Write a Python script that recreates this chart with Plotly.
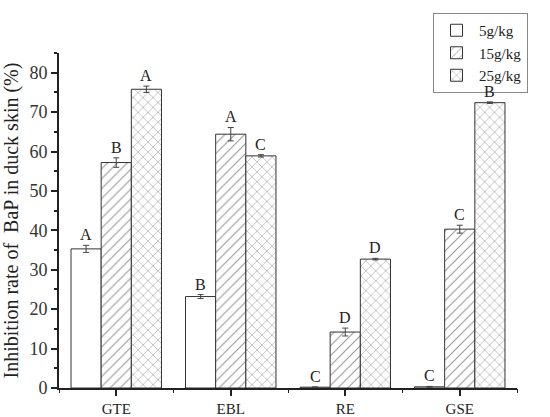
import plotly.graph_objects as go

# data
categories = ["GTE", "EBL", "RE", "GSE"]
doses = ["5g/kg", "15g/kg", "25g/kg"]
values = {
    "5g/kg": [35.3, 23.2, 0.2, 0.3],
    "15g/kg": [57.2, 64.4, 14.2, 40.3],
    "25g/kg": [75.8, 58.9, 32.7, 72.4],
}
errors = {
    "5g/kg": [0.9, 0.5, 0.1, 0.1],
    "15g/kg": [1.2, 1.7, 1.0, 1.0],
    "25g/kg": [0.8, 0.3, 0.2, 0.2],
}
letters = {
    "5g/kg": ["A", "B", "C", "C"],
    "15g/kg": ["B", "A", "D", "C"],
    "25g/kg": ["A", "C", "D", "B"],
}
y_ticks = [0, 10, 20, 30, 40, 50, 60, 70, 80]

# styles
FONT = "Liberation Serif, DejaVu Serif, serif"
LINE = "#333333"
patterns = {"5g/kg": "", "15g/kg": "/", "25g/kg": "x"}

W, H = 550, 417
M = dict(l=59, r=33, t=53, b=29)
BARGAP = 0.21

fig = go.Figure()
for d in doses:
    fig.add_trace(go.Bar(
        name=d,
        x=categories,
        y=values[d],
        error_y=dict(type="data", array=errors[d], color="#444444",
                     thickness=1, width=3),
        marker=dict(
            color="white",
            line=dict(color=LINE, width=1),
            pattern=dict(shape=patterns[d], fgcolor="#2a2a2a", bgcolor="white",
                         size=7, solidity=0.15),
        ),
    ))

# significance letters above each error bar
plot_w = W - M["l"] - M["r"]
bar_px = plot_w / len(categories) * (1 - BARGAP) / len(doses)
for k, d in enumerate(doses):
    shift = (k - 1) * bar_px
    for i, c in enumerate(categories):
        fig.add_annotation(
            x=c, y=values[d][i] + errors[d][i], text=letters[d][i],
            xshift=shift, yshift=0, yanchor="bottom", showarrow=False,
            font=dict(family=FONT, size=16, color="#222222"),
        )

fig.update_layout(
    width=W, height=H,
    margin=dict(M, autoexpand=False),
    paper_bgcolor="white", plot_bgcolor="white",
    barmode="group", bargap=BARGAP, bargroupgap=0,
    font=dict(family=FONT, color="#222222"),
    showlegend=True,
    legend=dict(
        xref="container", yref="container",
        x=433 / W, y=1 - 13 / H, xanchor="left", yanchor="top",
        bordercolor="#888888", borderwidth=1,
        font=dict(family=FONT, size=15, color="#222222"),
        tracegroupgap=0, itemwidth=35,
    ),
    xaxis=dict(
        type="category", range=[-0.5, 3.5], automargin=False,
        showline=True, linecolor="#222222", linewidth=2,
        ticks="outside", ticklen=6, tickwidth=1.5, tickcolor="#222222",
        tickfont=dict(family=FONT, size=15, color="#222222"),
        showgrid=False, zeroline=False,
    ),
    xaxis2=dict(
        type="category", range=[-0.5, 3.5], overlaying="x",
        matches="x", tickson="boundaries", automargin=False,
        ticks="outside", ticklen=4, tickwidth=1, tickcolor="#222222",
        showticklabels=False, showgrid=False, showline=False,
    ),
    yaxis=dict(
        range=[0, 85], tickvals=y_ticks, automargin=False,
        showline=True, linecolor="#222222", linewidth=2,
        ticks="outside", ticklen=6, tickwidth=1.5, tickcolor="#222222",
        minor=dict(dtick=5, tick0=0, ticks="outside", ticklen=3,
                   tickcolor="#222222"),
        tickfont=dict(family=FONT, size=18, color="#333333"),
        showgrid=False, zeroline=False,
        title=dict(text="Inhibition rate of  BaP in duck skin (%)",
                   font=dict(family=FONT, size=20, color="#222222"),
                   standoff=8),
    ),
)

# invisible trace to carry the boundary ticks axis
fig.add_trace(go.Scatter(x=categories, y=[None] * len(categories),
                         xaxis="x2", showlegend=False, hoverinfo="skip"))

# the page body has a default 8px margin; drop it so the figure fills the window
fig.write_html("out.html",
               config={"displayModeBar": False},
               post_script="document.body.style.margin='0';")
